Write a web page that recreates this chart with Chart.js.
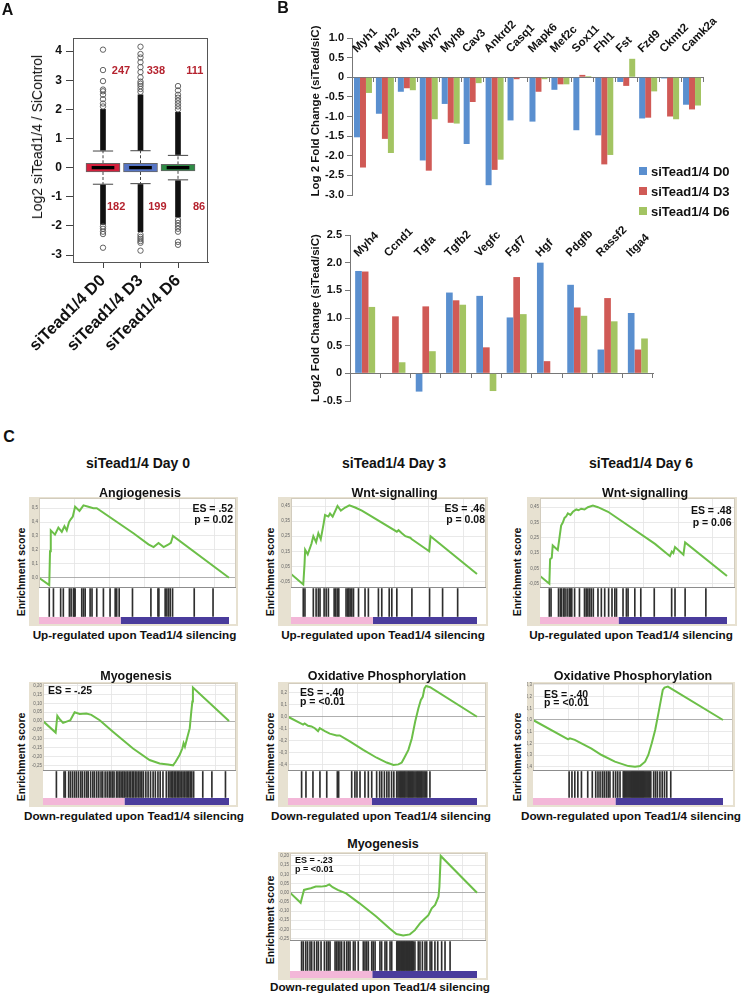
<!DOCTYPE html>
<html>
<head>
<meta charset="utf-8">
<title>siTead1/4 figure</title>
<script src="https://cdn.jsdelivr.net/npm/chart.js@4.4.1/dist/chart.umd.min.js"></script>
<style>
html,body{margin:0;padding:0;background:#ffffff;}
#root{position:relative;width:745px;height:995px;overflow:hidden;font-family:"Liberation Sans",Arial,Helvetica,sans-serif;color:#111;}
#root canvas{position:absolute;}
.t{position:absolute;white-space:nowrap;}
.frame{position:absolute;background:#e7e1d1;}
.sw{position:absolute;width:8px;height:8px;}
</style>
</head>
<body>
<div id="root"></div>
<script>
/* ================= DATA ================= */
/* Panel A : box plots */
const boxLabels = ['siTead1/4 D0', 'siTead1/4 D3', 'siTead1/4 D6'];
const boxQ1 = [-0.15, -0.15, -0.11];
const boxQ3 = [0.15, 0.15, 0.11];
const boxMedian = [0, 0, 0];
const whiskerLow = [-0.57, -0.55, -0.42];
const whiskerHigh = [0.57, 0.58, 0.42];
const denseHigh = [[0.6, 2.0], [0.6, 2.5], [0.45, 1.9]];
const denseLow = [[-0.6, -1.95], [-0.58, -2.2], [-0.45, -1.7]];
const outliersD0 = [4.05, 3.35, 2.97, 2.68, 2.62, 2.5, 2.35, 2.2, 2.1, -2.02, -2.1, -2.2, -2.28, -2.75];
const outliersD3 = [4.15, 3.9, 3.78, 3.62, 3.45, 3.28, 3.1, 2.95, 2.88, 2.8, 2.7, 2.6, -2.3, -2.38, -2.45, -2.52, -2.58, -2.85];
const outliersD6 = [2.8, 2.65, 2.5, 2.4, 2.3, 2.2, 2.1, 2.0, -1.8, -1.9, -2.0, -2.1, -2.2, -2.55, -2.65];
const upCounts = [247, 338, 111];
const downCounts = [182, 199, 86];

/* Panel B : fold changes */
const seriesNames = ['siTead1/4 D0', 'siTead1/4 D3', 'siTead1/4 D6'];
const genesTop = ['Myh1','Myh2','Myh3','Myh7','Myh8','Cav3','Ankrd2','Casq1','Mapk6','Mef2c','Sox11','Fhl1','Fst','Fzd9','Ckmt2','Camk2a'];
const topD0 = [-1.53,-0.93,-0.37,-2.12,-0.68,-1.70,-2.75,-1.10,-1.13,-0.32,-1.35,-1.48,-0.12,-1.05,-0.03,-0.70];
const topD3 = [-2.30,-1.57,-0.28,-2.38,-1.16,-0.63,-2.36,-0.05,-0.37,-0.18,0.06,-2.22,-0.22,-1.03,-1.00,-0.82];
const topD6 = [-0.40,-1.93,-0.33,-1.07,-1.18,-0.15,-2.10,0.00,-0.05,-0.18,0.03,-1.98,0.47,-0.36,-1.07,-0.72];
const genesBottom = ['Myh4','Ccnd1','Tgfa','Tgfb2','Vegfc','Fgf7','Hgf','Pdgfb','Rassf2','Itga4'];
const bottomD0 = [1.85,0.00,-0.33,1.46,1.40,1.01,2.00,1.60,0.43,1.09];
const bottomD3 = [1.84,1.03,1.21,1.32,0.47,1.74,0.22,1.19,1.36,0.43];
const bottomD6 = [1.20,0.20,0.40,1.24,-0.32,1.07,0.00,1.04,0.94,0.63];

/* Panel C : GSEA running enrichment scores  [rank %, ES] */
const esAngioD0 = [[0,0],[5.4,-0.053],[5.8,0.19],[6.2,0.34],[8.4,0.31],[10.2,0.36],[12.0,0.33],[13.4,0.37],[14.6,0.34],[15.8,0.40],[16.7,0.42],[17.8,0.44],[19.0,0.51],[21.3,0.48],[23.4,0.52],[26.0,0.51],[28.6,0.50],[30.4,0.50],[49.7,0.32],[57.6,0.24],[60.3,0.22],[62.9,0.25],[65.6,0.22],[68.2,0.24],[69.4,0.25],[70.5,0.30],[100,0]];
const esWntD3 = [[0,0],[6.6,-0.07],[7.3,0.07],[7.6,0.16],[9.0,0.13],[11.0,0.20],[12.0,0.25],[13.5,0.21],[14.7,0.27],[16.0,0.23],[17.5,0.33],[18.3,0.39],[20.1,0.38],[21.0,0.40],[22.4,0.38],[25.0,0.45],[26.8,0.42],[29.1,0.44],[31.4,0.455],[34.5,0.44],[38.1,0.42],[40.8,0.40],[56.9,0.28],[57.8,0.29],[59.6,0.27],[61.5,0.25],[64.1,0.24],[65.0,0.23],[74.3,0.15],[75.0,0.25],[100,0]];
const esWntD6 = [[0,0],[5.0,-0.05],[5.4,0.11],[6.3,0.12],[6.8,0.20],[7.7,0.19],[9.5,0.17],[10.4,0.25],[11.3,0.33],[12.2,0.35],[13.1,0.38],[14.0,0.39],[14.9,0.41],[16.3,0.40],[17.6,0.42],[19.4,0.435],[20.6,0.43],[22.0,0.44],[23.8,0.435],[25.6,0.45],[28.3,0.46],[31.0,0.45],[36.4,0.42],[61.5,0.21],[69.5,0.13],[70.5,0.16],[71.3,0.15],[72.2,0.19],[76.7,0.14],[77.6,0.22],[100,0]];
const esMyoD0 = [[0,0],[6.8,-0.065],[7.7,0.03],[9.0,0.01],[10.8,-0.01],[13.4,0.0],[14.7,0.005],[17.0,0.05],[19.7,0.04],[23.3,0.043],[26.0,0.035],[30.5,0.005],[37.6,-0.06],[48.4,-0.155],[57.3,-0.22],[62.7,-0.24],[67.2,-0.245],[69.9,-0.25],[71.3,-0.23],[73.5,-0.19],[74.9,-0.155],[75.6,-0.125],[76.3,-0.145],[77.4,-0.10],[78.9,-0.04],[79.7,0.05],[80.3,0.11],[80.6,0.19],[100,0]];
const esOxD3 = [[0,0],[8.0,-0.065],[8.8,-0.055],[10.6,-0.075],[12.4,-0.08],[14.2,-0.095],[15.9,-0.12],[16.8,-0.095],[19.5,-0.12],[22.1,-0.14],[25.7,-0.155],[27.4,-0.155],[32.7,-0.205],[39.8,-0.275],[46.9,-0.34],[52.2,-0.38],[55.8,-0.40],[58.4,-0.395],[60.2,-0.38],[61.9,-0.33],[63.7,-0.275],[65.5,-0.18],[67.3,-0.04],[69.0,0.07],[70.3,0.14],[71.3,0.165],[72.2,0.235],[73.1,0.255],[75.2,0.245],[100,0]];
const esOxD6 = [[0,0],[18.5,-0.165],[19.4,-0.157],[22.0,-0.17],[25.5,-0.20],[30.8,-0.245],[36.1,-0.30],[43.1,-0.357],[50.2,-0.395],[53.7,-0.40],[56.3,-0.395],[59.0,-0.357],[60.7,-0.30],[62.5,-0.20],[64.3,-0.086],[66.0,0.057],[67.3,0.17],[68.3,0.257],[69.2,0.277],[71.0,0.286],[100,0]];
const esMyoD3 = [[0,0],[5.7,-0.055],[6.6,-0.02],[7.5,0.015],[9.3,0.02],[11.1,0.024],[13.8,0.033],[16.5,0.033],[19.2,0.036],[21.0,0.045],[22.8,0.03],[25.5,0.015],[30.0,-0.004],[37.2,-0.058],[46.1,-0.13],[53.3,-0.195],[56.9,-0.225],[60.5,-0.233],[64.1,-0.227],[66.8,-0.204],[69.5,-0.167],[71.3,-0.149],[74.0,-0.122],[75.8,-0.085],[77.6,-0.067],[79.4,-0.022],[79.9,0.033],[80.6,0.20],[100,0]];

/* Panel C : gene-set hit positions (rank %) */
const hitsAngioD0 = [5.4,7.6,11.4,12.8,16.0,16.9,18.1,18.5,19.0,22.5,23.4,24.3,26.9,27.9,30.4,33.9,37.4,40.1,40.9,42.2,49.2,58.9,62.6,63.1,66.4,67.3,68.2,69.1,70.3,81.7,91.6];
const hitsWntD3 = [6.6,7.5,12.0,13.5,14.7,15.6,17.8,18.9,20.1,23.2,24.1,25.0,25.7,29.6,30.5,31.1,31.8,32.7,33.6,36.3,39.8,41.6,47.0,48.8,52.8,54.2,56.9,65.0,74.5,81.5,89.6];
const hitsWntD6 = [5.0,5.9,9.9,10.9,11.6,12.7,13.4,14.5,15.6,16.3,17.0,18.5,21.1,23.8,24.7,25.6,26.5,27.4,28.5,31.0,32.8,34.6,36.7,38.5,40.0,40.9,44.4,46.2,47.1,50.7,53.9,61.1,70.4,72.2,77.6,88.7];
const hitsMyoD0 = [7.2,11.3,12.0,13.8,14.8,15.9,17.0,18.0,19.1,20.3,21.2,22.4,23.5,24.3,25.6,26.8,27.7,28.9,30.0,31.2,32.1,33.4,34.5,35.6,36.5,37.4,38.2,39.5,40.3,41.2,42.0,42.9,43.7,44.6,45.4,46.3,47.1,48.0,48.8,49.7,50.5,51.4,52.2,53.1,54.0,55.3,56.5,57.8,59.2,60.4,61.8,63.0,64.5,66.3,67.5,68.3,69.1,69.8,70.6,71.4,72.2,73.0,73.7,74.5,75.3,76.1,76.9,77.6,78.4,79.2,80.0,81.0,85.9,90.8,98.1];
const hitsOxD3 = [7.2,9.5,13.2,16.9,20.5,26.1,26.8,33.7,35.4,36.5,38.1,40.7,42.5,44.3,46.9,48.5,49.6,51.0,52.3,53.4,54.8,56.0,57.5,58.2,58.8,59.4,60.0,60.6,61.2,61.8,62.4,63.0,63.6,64.2,64.8,65.4,66.0,66.6,67.2,67.8,68.4,69.0,69.6,70.2,70.8,71.4,72.0,72.6,73.4,75.1];
const hitsOxD6 = [19.0,20.5,22.0,23.6,25.5,28.8,31.2,33.0,34.2,35.3,36.5,37.5,38.6,39.6,40.5,42.3,43.5,44.6,45.8,47.5,48.0,48.5,49.0,49.5,50.0,50.5,51.0,51.5,52.0,52.5,53.0,53.5,54.0,54.5,55.0,55.5,56.0,56.5,57.0,57.5,58.0,58.5,59.0,59.5,60.0,60.5,61.0,61.5,62.0,63.5,64.5,65.5,66.8,68.0,69.2,70.4,72.5];
const hitsMyoD3 = [6.2,7.1,8.4,9.4,10.7,11.6,13.0,14.3,15.2,16.6,18.4,19.6,20.5,21.4,24.1,25.0,25.8,26.7,27.6,29.0,30.3,31.2,32.1,33.9,34.8,36.5,39.2,40.1,41.0,41.9,43.7,44.5,45.5,48.1,49.0,50.8,51.7,53.5,54.4,57.1,57.5,57.9,58.4,58.8,59.3,59.7,60.2,60.6,61.1,61.5,62.0,62.4,62.9,63.3,63.8,64.2,64.7,65.1,65.5,65.9,66.8,68.6,69.5,70.8,72.2,73.1,74.9,75.8,77.5,79.0,81.1,82.9,85.6];
/* rank % where the ranked list turns from up (pink) to down (purple) */
const rankSplit = [43, 44, 42, 43.8, 44.3, 43.4, 44];
/* x grid ranks */
const gridRanks = [18.5, 37, 55.5, 74, 92.5];

/* ================= SETUP ================= */
const FONT = '"Liberation Sans", Arial, Helvetica, sans-serif';
Chart.defaults.font.family = FONT;
Chart.defaults.color = '#111';
Chart.defaults.animation = false;
Chart.defaults.responsive = false;
Chart.defaults.devicePixelRatio = 1;
Chart.defaults.events = [];
Chart.defaults.plugins.legend.display = false;
Chart.defaults.plugins.tooltip.enabled = false;

const root = document.getElementById('root');
function mkCanvas(x, y, w, h) {
  const c = document.createElement('canvas');
  c.width = w; c.height = h;
  c.style.left = x + 'px'; c.style.top = y + 'px';
  c.style.width = w + 'px'; c.style.height = h + 'px';
  root.appendChild(c);
  return c;
}
function txt(s, x, y, font, align, rot, color) {
  const d = document.createElement('div');
  d.className = 't';
  d.textContent = s;
  d.style.left = x + 'px'; d.style.top = y + 'px';
  d.style.font = font + ' ' + FONT;
  d.style.lineHeight = '1';
  d.style.color = color || '#111';
  const tx = align === 'l' ? '0' : (align === 'r' ? '-100%' : '-50%');
  d.style.transform = 'translate(' + tx + ',-50%)' + (rot ? ' rotate(' + rot + 'deg)' : '');
  root.appendChild(d);
}
const fixW = w => s => { s.width = w; s.paddingTop = 0; s.paddingBottom = 0; };
const fixH = h => s => { s.height = h; s.paddingLeft = 0; s.paddingRight = 0; };

const whiteArea = { id: 'whiteArea', beforeDraw(chart) {
  const a = chart.chartArea, c = chart.ctx;
  c.save(); c.fillStyle = '#ffffff'; c.fillRect(a.left, a.top, a.right - a.left, a.bottom - a.top); c.restore();
}};
const frameBox = { id: 'frameBox', afterDraw(chart) {
  const a = chart.chartArea, c = chart.ctx;
  c.save(); c.strokeStyle = '#555'; c.lineWidth = 1;
  c.strokeRect(Math.round(a.left) + 0.5, Math.round(a.top) + 0.5, Math.round(a.right - a.left) - 1, Math.round(a.bottom - a.top));
  c.restore();
}};
const esFrame = { id: 'esFrame', afterDraw(chart) {
  const a = chart.chartArea, c = chart.ctx;
  c.save(); c.strokeStyle = '#d2ccbe'; c.lineWidth = 1;
  c.strokeRect(a.left + 0.5, a.top + 0.5, a.right - a.left - 1, a.bottom - a.top);
  c.strokeStyle = '#8c8c8c'; c.beginPath(); c.moveTo(a.left, a.bottom - 0.5); c.lineTo(a.right, a.bottom - 0.5); c.stroke();
  c.restore();
}};

/* ================= PANEL A ================= */
const idx = boxLabels.map((_, i) => i);
const boxColors = ['#d4213d', '#5675c4', '#2e8b45'];
const boxBars = idx.map(i => ({ x: i, y: [boxQ1[i], boxQ3[i]] }));
const medBars = idx.map(i => ({ x: i, y: [boxMedian[i] - 0.045, boxMedian[i] + 0.045] }));
const denseBars = idx.flatMap(i => [{ x: i, y: denseHigh[i] }, { x: i, y: denseLow[i] }]);
const outlierPts = [outliersD0, outliersD3, outliersD6].flatMap((arr, i) => arr.map(v => ({ x: i, y: v })));
const whiskerPts = idx.flatMap(i => [{x:i,y:boxQ3[i]},{x:i,y:whiskerHigh[i]},{x:i,y:null},{x:i,y:boxQ1[i]},{x:i,y:whiskerLow[i]},{x:i,y:null}]);
const capPts = idx.flatMap(i => [{x:i-0.27,y:whiskerHigh[i]},{x:i+0.27,y:whiskerHigh[i]},{x:i,y:null},{x:i-0.27,y:whiskerLow[i]},{x:i+0.27,y:whiskerLow[i]},{x:i,y:null}]);

const countLabels = { id: 'countLabels', afterDatasetsDraw(chart) {
  const c = chart.ctx, x = chart.scales.x, y = chart.scales.y;
  const upDx = [0.48, 0.41, 0.45], downDx = [0.35, 0.45, 0.56];
  c.save(); c.fillStyle = '#b5232f'; c.font = 'bold 11px ' + FONT; c.textAlign = 'center'; c.textBaseline = 'middle';
  upCounts.forEach((n, i) => c.fillText(String(n), x.getPixelForValue(i + upDx[i]), y.getPixelForValue(3.31)));
  downCounts.forEach((n, i) => c.fillText(String(n), x.getPixelForValue(i + downDx[i]), y.getPixelForValue(-1.35)));
  c.restore();
}};

new Chart(mkCanvas(0, 0, 215, 390), {
  type: 'bar',
  data: { datasets: [
    { type: 'bar', data: medBars, backgroundColor: '#000', barThickness: 22, grouped: false, order: 0 },
    { type: 'bar', data: boxBars, backgroundColor: boxColors, borderColor: '#666', borderWidth: 1, borderSkipped: false, barThickness: 34, grouped: false, order: 1 },
    { type: 'scatter', data: outlierPts, pointRadius: 2.7, borderWidth: 0.9, borderColor: '#555', backgroundColor: 'rgba(255,255,255,0)', order: 2 },
    { type: 'bar', data: denseBars, backgroundColor: '#111', barThickness: 5, grouped: false, order: 3 },
    { type: 'line', data: capPts, borderColor: '#444', borderWidth: 1, pointRadius: 0, order: 4 },
    { type: 'line', data: whiskerPts, borderColor: '#444', borderWidth: 1, borderDash: [3, 2], pointRadius: 0, order: 5 }
  ]},
  options: {
    layout: { padding: { left: 0, top: 38, right: 7, bottom: 0 } },
    scales: {
      x: { type: 'linear', min: -0.8, max: 2.8, offset: false,
        afterBuildTicks: s => { s.ticks = idx.map(v => ({ value: v })); },
        ticks: { autoSkip: false, minRotation: 45, maxRotation: 45, padding: 3, font: { size: 16.5, weight: 'bold' }, color: '#111', callback: v => boxLabels[v] },
        grid: { offset: false, drawOnChartArea: false, tickLength: 6, color: '#444' },
        border: { color: '#444' },
        afterFit: fixH(128) },
      y: { min: -3.24, max: 4.45,
        ticks: { stepSize: 1, includeBounds: false, font: { size: 12, weight: 'bold' }, color: '#111', padding: 4 },
        grid: { drawOnChartArea: false, tickLength: 7, color: '#444' },
        border: { color: '#444' },
        afterFit: fixW(73) }
    }
  },
  plugins: [frameBox, countLabels]
});

/* ================= PANEL B ================= */
const barColors = ['#5a8fcf', '#d05a56', '#a3c462'];
function geneLabels(valueY, dx) {
  return { id: 'geneLabels', afterDraw(chart) {
    const c = chart.ctx, x = chart.scales.x, y = chart.scales.y;
    c.save(); c.font = 'bold 11.5px ' + FONT; c.fillStyle = '#111'; c.textAlign = 'left'; c.textBaseline = 'alphabetic';
    chart.data.labels.forEach((lab, i) => {
      c.save(); c.translate(x.getPixelForValue(i) + dx, y.getPixelForValue(valueY)); c.rotate(-Math.PI / 4); c.fillText(lab, 0, 0); c.restore();
    });
    c.restore();
  }};
}
function fcChart(canvas, labels, series, yMin, yMax, pad, yW, catPct, labY, labDx) {
  return new Chart(canvas, {
    type: 'bar',
    data: { labels: labels, datasets: series.map((d, i) => ({ label: seriesNames[i], data: d, backgroundColor: barColors[i] })) },
    options: {
      layout: { padding: pad },
      datasets: { bar: { categoryPercentage: catPct, barPercentage: 1 } },
      scales: {
        x: { position: { y: 0 }, ticks: { display: false }, grid: { offset: true, drawOnChartArea: false, tickLength: 4, color: '#777' }, border: { color: '#777' } },
        y: { min: yMin, max: yMax, ticks: { stepSize: 0.5, font: { size: 11, weight: 'bold' }, color: '#111', padding: 3 },
             grid: { drawOnChartArea: false, tickLength: 5, color: '#777' }, border: { color: '#777' }, afterFit: fixW(yW) }
      }
    },
    plugins: [geneLabels(labY, labDx)]
  });
}
fcChart(mkCanvas(240, 0, 505, 230), genesTop, [topD0, topD3, topD6], -3, 1, { left: 0, top: 38, right: 42, bottom: 35 }, 112, 0.82, 0.62, -6);
fcChart(mkCanvas(240, 225, 505, 190), genesBottom, [bottomD0, bottomD3, bottomD6], -0.5, 2.5, { left: 0, top: 10, right: 92, bottom: 14 }, 110, 0.66, 2.1, -7);

/* ================= PANEL C ================= */
const R1 = { frameT: 497, divider: 588, frameB: 626 };
const R2 = { frameT: 682, divider: 771, frameB: 807 };
const R3 = { frameT: 852, divider: 941, frameB: 980 };
const gseaPanels = [
  Object.assign({ curve: esAngioD0, hits: hitsAngioD0, split: rankSplit[0], yMin: -0.074, yMax: 0.573, step: 0.1, dec: 1, frameL: 29, frameR: 238, plotL: 39, whiteR: 236, dataEnd: 229 }, R1),
  Object.assign({ curve: esWntD3, hits: hitsWntD3, split: rankSplit[1], yMin: -0.093, yMax: 0.503, step: 0.05, dec: 2, frameL: 278, frameR: 488, plotL: 291, whiteR: 486, dataEnd: 477 }, R1),
  Object.assign({ curve: esWntD6, hits: hitsWntD6, split: rankSplit[2], yMin: -0.078, yMax: 0.51, step: 0.05, dec: 2, frameL: 527, frameR: 737, plotL: 540, whiteR: 735, dataEnd: 727 }, R1),
  Object.assign({ curve: esMyoD0, hits: hitsMyoD0, split: rankSplit[3], yMin: -0.282, yMax: 0.215, step: 0.05, dec: 2, frameL: 29, frameR: 238, plotL: 43, whiteR: 236, dataEnd: 229 }, R2),
  Object.assign({ curve: esOxD3, hits: hitsOxD3, split: rankSplit[4], yMin: -0.45, yMax: 0.28, step: 0.1, dec: 1, frameL: 278, frameR: 488, plotL: 288, whiteR: 486, dataEnd: 477 }, R2),
  Object.assign({ curve: esOxD6, hits: hitsOxD6, split: rankSplit[5], yMin: -0.437, yMax: 0.317, step: 0.1, dec: 1, frameL: 527, frameR: 735, plotL: 533, whiteR: 733, dataEnd: 723 }, R2),
  Object.assign({ curve: esMyoD3, hits: hitsMyoD3, split: rankSplit[6], yMin: -0.263, yMax: 0.216, step: 0.05, dec: 2, frameL: 278, frameR: 488, plotL: 290, whiteR: 486, dataEnd: 477 }, R3)
];

gseaPanels.forEach(p => {
  const fw = p.frameR - p.frameL, fh = p.frameB - p.frameT;
  const fr = document.createElement('div');
  fr.className = 'frame';
  fr.style.cssText = 'left:' + p.frameL + 'px;top:' + p.frameT + 'px;width:' + fw + 'px;height:' + fh + 'px';
  root.appendChild(fr);
  const xMax = 100 * (p.whiteR - p.plotL) / (p.dataEnd - p.plotL);

  new Chart(mkCanvas(p.frameL, p.frameT, fw, p.divider - p.frameT), {
    type: 'line',
    data: { datasets: [{ data: p.curve.map(([x, y]) => ({ x: x, y: y })), borderColor: '#6cbf48', borderWidth: 2, pointRadius: 0, tension: 0, fill: false }] },
    options: {
      layout: { padding: { left: 0, top: 1, right: p.frameR - p.whiteR, bottom: 0 } },
      scales: {
        x: { type: 'linear', min: 0, max: xMax,
          afterBuildTicks: s => { s.ticks = gridRanks.map(v => ({ value: v })); },
          ticks: { display: false },
          grid: { color: '#e3e3e3', lineWidth: 0.8, drawTicks: false },
          border: { display: false },
          afterFit: fixH(0) },
        y: { min: p.yMin, max: p.yMax,
          ticks: { stepSize: p.step, includeBounds: false, font: { size: 4.5 }, color: '#666', padding: 1, callback: v => v.toFixed(p.dec).replace('.', ',') },
          grid: { color: c => (c.tick && Math.abs(c.tick.value) < 1e-9) ? '#9a9a9a' : '#e3e3e3', lineWidth: 0.8, drawTicks: false },
          border: { display: false },
          afterFit: fixW(p.plotL - p.frameL) }
      }
    },
    plugins: [whiteArea, esFrame]
  });

  const botH = p.frameB - p.divider, H = botH - 2;
  const cb = 3.5 / H, lo = 7.5 / H;
  new Chart(mkCanvas(p.frameL, p.divider, fw, botH), {
    type: 'bar',
    data: { datasets: [
      { type: 'bar', data: p.hits.map(h => ({ x: h, y: [lo, 0.985] })), backgroundColor: '#2e2e2e', barThickness: 1, grouped: false, order: 0 },
      { type: 'line', data: [{ x: 0, y: cb }, { x: p.split, y: cb }], borderColor: '#f3b7d8', borderWidth: 7, pointRadius: 0, order: 1 },
      { type: 'line', data: [{ x: p.split, y: cb }, { x: 100, y: cb }], borderColor: '#4a3c9c', borderWidth: 7, pointRadius: 0, order: 1 }
    ]},
    options: {
      layout: { padding: { left: p.plotL - p.frameL, top: 0, right: p.frameR - p.whiteR, bottom: 2 } },
      scales: {
        x: { type: 'linear', min: 0, max: xMax, display: false, offset: false, grid: { offset: false } },
        y: { min: 0, max: 1, display: false }
      }
    },
    plugins: [whiteArea]
  });
});

/* ================= TEXT ================= */
txt('A', 7.5, 10, 'bold 16px');
txt('B', 283, 8, 'bold 16px');
txt('C', 9, 437, 'bold 16px');
txt('Log2 siTead1/4 / SiControl', 37, 137, '14px', 'c', -90);
txt('Log 2 Fold Change (siTead/siC)', 316, 111, 'bold 11.5px', 'c', -90);
txt('Log2 Fold Change (siTead/siC)', 316, 318, 'bold 11.5px', 'c', -90);

[171, 191, 211].forEach((yy, i) => {
  const s = document.createElement('div');
  s.className = 'sw';
  s.style.left = '639px'; s.style.top = (yy - 4) + 'px'; s.style.background = barColors[i];
  root.appendChild(s);
  txt(seriesNames[i], 651, yy, 'bold 13px', 'l');
});

txt('siTead1/4 Day 0', 138, 463, 'bold 14px');
txt('siTead1/4 Day 3', 394, 463, 'bold 14px');
txt('siTead1/4 Day 6', 641, 463, 'bold 14px');

txt('Angiogenesis', 140, 493, 'bold 12.5px');
txt('Wnt-signalling', 394.5, 493, 'bold 12.5px');
txt('Wnt-signalling', 645, 493, 'bold 12.5px');
txt('Myogenesis', 136, 676, 'bold 12.5px');
txt('Oxidative Phosphorylation', 387, 676, 'bold 12.5px');
txt('Oxidative Phosphorylation', 633, 676, 'bold 12.5px');
txt('Myogenesis', 383, 844, 'bold 12.5px');

const upCap = 'Up-regulated upon Tead1/4 silencing', downCap = 'Down-regulated upon Tead1/4 silencing';
txt(upCap, 134.5, 635, 'bold 11.7px');
txt(upCap, 383, 635, 'bold 11.7px');
txt(upCap, 631, 635, 'bold 11.7px');
txt(downCap, 134, 816, 'bold 11.7px');
txt(downCap, 381, 816, 'bold 11.7px');
txt(downCap, 631, 816, 'bold 11.7px');
txt(downCap, 380, 987, 'bold 11.7px');

[[21, 572], [270, 572], [517, 572], [21, 757], [270, 757], [517, 757], [270, 920]].forEach(([x, y]) => txt('Enrichment score', x, y, 'bold 10.5px', 'c', -90));

txt('ES = .52', 233, 508, 'bold 10.5px', 'r');
txt('p = 0.02', 233, 518.5, 'bold 10.5px', 'r');
txt('ES = .46', 485, 507.5, 'bold 10.5px', 'r');
txt('p = 0.08', 485, 518.5, 'bold 10.5px', 'r');
txt('ES = .48', 731.5, 509.5, 'bold 10.5px', 'r');
txt('p = 0.06', 731.5, 521.5, 'bold 10.5px', 'r');
txt('ES = -.25', 48, 689.5, 'bold 10.5px', 'l');
txt('ES = -.40', 300, 691.5, 'bold 10.5px', 'l');
txt('p = <0.01', 300, 701, 'bold 10.5px', 'l');
txt('ES = -.40', 544, 693.5, 'bold 10.5px', 'l');
txt('p = <0.01', 544, 702, 'bold 10.5px', 'l');
txt('ES = -.23', 295, 859.5, 'bold 9px', 'l');
txt('p = <0.01', 295, 868.5, 'bold 9px', 'l');
</script>
</body>
</html>
